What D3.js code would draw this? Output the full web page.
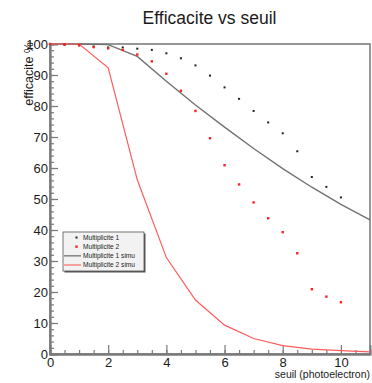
<!DOCTYPE html>
<html>
<head>
<meta charset="utf-8">
<script src="https://cdn.jsdelivr.net/npm/d3@7"></script>
<style>
  body { margin: 0; background: #fff; }
  svg text { font-family: "Liberation Sans", Arial, sans-serif; }
</style>
</head>
<body>
<div id="chart"></div>
<script>
// --- 1. DATA ---
var seuilPoints = [0, 0.5, 1, 1.5, 2, 2.5, 3, 3.5, 4, 4.5, 5, 5.5, 6, 6.5, 7, 7.5, 8, 8.5, 9, 9.5, 10];
var mult1 = [100, 99.8, 99.6, 99.2, 98.9, 98.9, 98.5, 98.1, 97.0, 95.4, 93.1, 89.8, 86.0, 82.3, 78.4, 74.7, 71.2, 65.4, 57.1, 53.9, 50.5];
var mult2 = [100, 99.8, 99.6, 99.0, 98.6, 98.1, 96.6, 94.4, 90.4, 84.9, 78.4, 69.6, 60.9, 54.7, 48.9, 43.8, 39.3, 32.5, 20.9, 18.5, 16.7];

var seuilSimu = [0, 1, 2, 3, 4, 5, 6, 7, 8, 9, 10, 11];
var mult1Simu = [100, 100, 99.8, 96.0, 88.0, 80.3, 73.2, 66.3, 59.8, 53.8, 48.3, 43.3];
var mult2Simu = [100, 100, 92.3, 56.2, 31.1, 17.4, 9.3, 5.0, 2.7, 1.6, 1.1, 0.7];

var xMajorTicks = [0, 2, 4, 6, 8, 10];
var yMajorTicks = [0, 10, 20, 30, 40, 50, 60, 70, 80, 90, 100];

var legendLabels = ["Multiplicite 1", "Multiplicite 2", "Multiplicite 1 simu", "Multiplicite 2 simu"];

// --- 2. SETUP ---
var width = 372, height = 383;
var plotLeft = 50, plotRight = 370, plotTop = 44, plotBottom = 354;

var svg = d3.select("#chart").append("svg")
    .attr("width", width)
    .attr("height", height);

var x = d3.scaleLinear().domain([0, 11]).range([plotLeft, plotRight]);
var y = d3.scaleLinear().domain([0, 100]).range([plotBottom, plotTop]);

var axisColor = "#7a7a7a";

// --- 3. FRAME ---
svg.append("rect")
    .attr("x", plotLeft).attr("y", plotTop)
    .attr("width", plotRight - plotLeft).attr("height", plotBottom - plotTop)
    .attr("fill", "none")
    .attr("stroke", "#8c8c8c")
    .attr("stroke-width", 1.8);

// --- 4. AXES (ticks inside, like ROOT) ---
var xAxis = d3.axisBottom(x)
    .tickValues(d3.range(0, 11.01, 0.5))
    .tickSize(-4)
    .tickFormat("");
svg.append("g").attr("transform", "translate(0," + plotBottom + ")").call(xAxis);

var xMajor = d3.axisBottom(x)
    .tickValues(xMajorTicks)
    .tickSize(-9)
    .tickPadding(12.5)
    .tickFormat(d3.format("d"));
svg.append("g").attr("class", "xmajor").attr("transform", "translate(0," + plotBottom + ")").call(xMajor);

var yAxis = d3.axisLeft(y)
    .tickValues(d3.range(0, 100.01, 2))
    .tickSize(-4)
    .tickFormat("");
svg.append("g").attr("transform", "translate(" + plotLeft + ",0)").call(yAxis);

var yMajor = d3.axisLeft(y)
    .tickValues(yMajorTicks)
    .tickSize(-8)
    .tickPadding(2)
    .tickFormat(d3.format("d"));
svg.append("g").attr("class", "ymajor").attr("transform", "translate(" + plotLeft + ",0)").call(yMajor);

svg.selectAll(".domain").attr("stroke", axisColor).attr("stroke-width", 1.8);
svg.selectAll(".tick line").attr("stroke", axisColor).attr("stroke-width", 1.2);
svg.selectAll(".tick text")
    .attr("fill", "#1a1a1a")
    .style("font-size", "13px");
svg.selectAll(".xmajor .tick text").attr("dy", "0");

// --- 5. LABELS ---
svg.append("text")
    .attr("x", 209.5).attr("y", 24)
    .attr("text-anchor", "middle")
    .attr("fill", "#1a1a1a")
    .style("font-size", "17.5px")
    .text("Efficacite vs seuil");

svg.append("text")
    .attr("x", 370).attr("y", 377.5)
    .attr("text-anchor", "end")
    .attr("fill", "#1a1a1a")
    .style("font-size", "10.5px")
    .text("seuil (photoelectron)");

svg.append("text")
    .attr("transform", "translate(33,42) rotate(-90)")
    .attr("text-anchor", "end")
    .attr("fill", "#1a1a1a")
    .style("font-size", "12.5px")
    .text("efficacite %");

// --- 6. SIMULATION LINES ---
var line = d3.line()
    .x(function(d) { return x(d[0]); })
    .y(function(d) { return y(d[1]); });

svg.append("path")
    .datum(d3.zip(seuilSimu, mult1Simu))
    .attr("d", line)
    .attr("fill", "none")
    .attr("stroke", "#727272")
    .attr("stroke-width", 1.4);

svg.append("path")
    .datum(d3.zip(seuilSimu, mult2Simu))
    .attr("d", line)
    .attr("fill", "none")
    .attr("stroke", "#ff5c5c")
    .attr("stroke-width", 1.2);

// --- 7. DATA POINTS ---
function drawPoints(values, color, size) {
    svg.append("g").selectAll("rect")
        .data(d3.zip(seuilPoints, values)).enter().append("rect")
        .attr("x", function(d) { return x(d[0]) - size / 2; })
        .attr("y", function(d) { return y(d[1]) - size / 2; })
        .attr("width", size).attr("height", size)
        .attr("fill", color);
}
drawPoints(mult1, "#222", 2);
drawPoints(mult2, "#ff2020", 2.4);

// --- 8. LEGEND ---
var lx = 63, ly = 232, lw = 81, lh = 39;
var legend = svg.append("g");
legend.append("rect")
    .attr("x", lx + 1.5).attr("y", ly + 1.5)
    .attr("width", lw).attr("height", lh)
    .attr("fill", "#555");
legend.append("rect")
    .attr("x", lx).attr("y", ly)
    .attr("width", lw).attr("height", lh)
    .attr("fill", "#f2f2f2")
    .attr("stroke", "#555")
    .attr("stroke-width", 0.8);

var rowY = d3.scalePoint().domain(legendLabels).range([ly + 5.5, ly + 33]);
var rows = legend.selectAll(".row").data(legendLabels).enter().append("g")
    .attr("transform", function(d) { return "translate(0," + rowY(d) + ")"; });

rows.each(function(d, i) {
    var g = d3.select(this);
    if (i < 2) {
        var s = i === 0 ? 2 : 2.4;
        g.append("rect")
            .attr("x", 76.5 - s / 2).attr("y", -s / 2)
            .attr("width", s).attr("height", s)
            .attr("fill", i === 0 ? "#222" : "#ff2020");
    } else {
        g.append("line")
            .attr("x1", 64).attr("x2", 81).attr("y1", 0).attr("y2", 0)
            .attr("stroke", i === 2 ? "#727272" : "#ff5c5c")
            .attr("stroke-width", i === 2 ? 1.3 : 1.1);
    }
    g.append("text")
        .attr("x", 83).attr("y", 2.3)
        .attr("fill", "#222")
        .style("font-size", "6.6px")
        .text(d);
});
</script>
</body>
</html>
